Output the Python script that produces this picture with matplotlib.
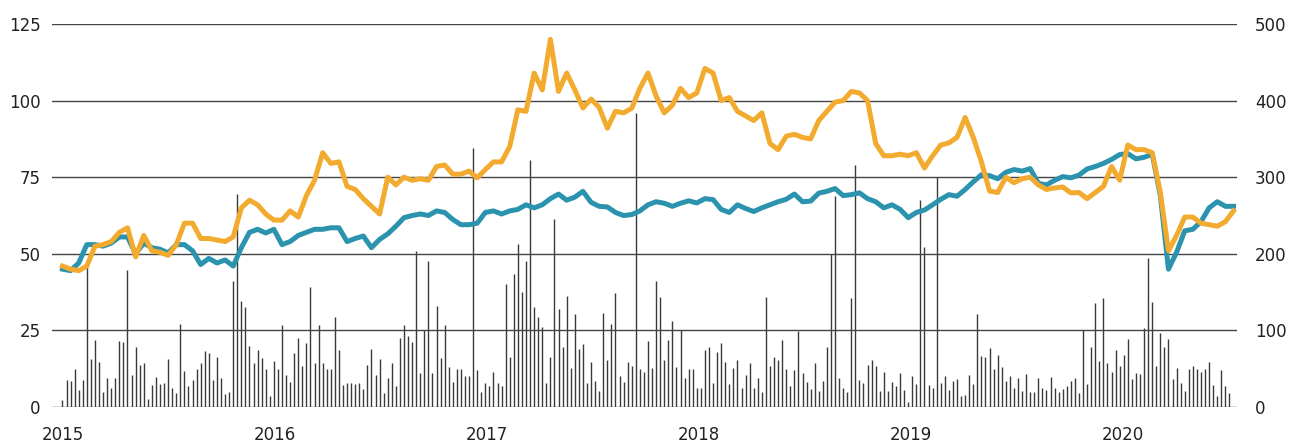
import matplotlib
matplotlib.use('Agg')

import numpy as np
import pandas as pd
import matplotlib.pyplot as plt
import matplotlib.dates as mdates

# weekly volume (right axis), first week starting 2015-01-01
volume = [
    9, 35, 34, 49, 22, 35, 185, 63, 88, 59, 20, 38, 25, 38, 86, 85, 179, 42, 78, 55,
    57, 10, 29, 39, 30, 31, 63, 25, 18, 108, 47, 28, 35, 49,
    57, 73, 71, 35, 65, 38, 17, 20, 164, 278, 138, 130, 80, 57, 74, 64, 50, 14, 60, 50,
    107, 42, 33, 70, 90, 53, 84, 157, 57, 107, 57, 50, 49, 117, 75, 29, 31,
    31, 30, 31, 23, 55, 76, 42, 63, 18, 38, 57, 28, 90, 107, 93, 85, 204, 45, 100, 191,
    44, 132, 64, 107, 52, 33, 49, 50, 40, 40, 338, 48, 20, 31, 28, 46, 31,
    28, 161, 65, 174, 213, 150, 190, 323, 130, 117, 104, 31, 65, 246, 128, 79, 145, 51, 121, 76,
    82, 31, 59, 34, 21, 123, 62, 109, 149, 41, 33, 59, 53, 384, 49, 46, 86,
    51, 165, 143, 62, 87, 112, 52, 100, 38, 50, 49, 25, 25, 75, 79, 32, 72, 84, 59, 30,
    51, 62, 25, 42, 57, 25, 38, 20, 143, 53, 65, 61, 87, 50, 28, 48, 99,
    44, 33, 23, 57, 21, 34, 79, 200, 275, 38, 25, 19, 142, 316, 35, 32, 55, 62, 54, 21,
    46, 21, 33, 27, 44, 22, 7, 41, 30, 270, 209, 29, 25, 300, 32, 41,
    22, 34, 37, 14, 16, 42, 30, 121, 66, 65, 77, 49, 68, 52, 34, 40, 25, 38, 21, 43,
    19, 20, 38, 25, 22, 39, 25, 19, 24, 28, 34, 38, 18, 100, 30, 79, 136,
    60, 142, 57, 46, 75, 53, 68, 89, 36, 44, 43, 103, 195, 137, 53, 96, 78, 89, 37, 51,
    31, 21, 49, 53, 50, 46, 50, 59, 29, 14, 48, 27, 18,
]

# price lines (left axis), sampled every two weeks from 2015-01-01
orange = [
    46, 45, 44.5, 46, 52.5, 53, 54, 57, 58.5, 49,
    56, 51, 50.5, 49.5, 53, 60, 60, 55, 55, 54.5,
    54, 55.5, 65, 67.5, 66, 63, 61, 61, 64, 62,
    69, 74, 83, 79.5, 80, 72, 71, 68, 65.5, 63,
    75, 72.5, 75, 74, 74.5, 74, 78.5, 79, 76, 76,
    77, 74.8, 77.5, 80, 80, 85, 97, 96.5, 109, 103.5,
    120, 103, 109, 103.5, 97.6, 100.5, 97.8, 91, 96.5, 96,
    97.5, 104, 109, 101.5, 96, 98.5, 104, 101, 102.5, 110.5,
    109, 100, 101, 96.5, 95, 93.5, 96, 86, 84, 88.4,
    89, 88, 87.5, 93.5, 96.5, 99.5, 100, 103, 102.5, 100,
    86, 82, 82, 82.5, 82, 83, 78, 82, 85.5, 86.2,
    88, 94.5, 88, 80, 70.5, 70, 75, 73.2, 74.5, 75,
    72.5, 71, 71.5, 71.8, 69.9, 70, 68, 70, 72, 78.5,
    74, 85.5, 84, 84, 83, 70, 51, 56, 62, 62,
    60, 59.5, 59, 60.5, 64,
]
teal = [
    45, 44.5, 47, 53, 53, 52.5, 53.5, 55.5, 55.5, 50,
    53.5, 52, 51.5, 50.3, 53, 53, 51, 46.5, 48.5, 47,
    48, 46, 52, 57, 58, 56.8, 58, 53, 54, 56,
    57, 58, 58, 58.5, 58.5, 54, 55, 55.8, 52, 54.7,
    56.5, 59, 61.8, 62.5, 63, 62.5, 64, 63.5, 61.2, 59.5,
    59.5, 60, 63.5, 64, 63, 64, 64.5, 66, 65, 66,
    68, 69.5, 67.5, 68.5, 70.4, 66.8, 65.5, 65.3, 63.5, 62.5,
    62.8, 64, 66, 67, 66.5, 65.5, 66.5, 67.3, 66.6, 68,
    67.7, 64.5, 63.5, 66, 64.8, 63.8, 65, 66, 67, 67.8,
    69.5, 67, 67.2, 69.8, 70.4, 71.3, 69, 69.3, 69.9, 68,
    67, 65, 66, 64.5, 61.8, 63.5, 64.3, 66, 67.8, 69.3,
    68.8, 71, 73.5, 75.8, 75.5, 74.5, 76.6, 77.5, 77, 77.8,
    73, 72.5, 74, 75.2, 74.8, 75.7, 77.7, 78.5, 79.5, 80.8,
    82.4, 82.7, 81, 81.5, 82.5, 69, 45, 50.5, 57.5, 58,
    60.5, 65, 67, 65.5, 65.5,
]

years = [2015, 2016, 2017, 2018, 2019, 2020]
left_ticks = [0, 25, 50, 75, 100, 125]
right_ticks = [0, 100, 200, 300, 400, 500]

vol_dates = pd.date_range('2015-01-01', periods=len(volume), freq='7D')
line_dates = pd.date_range('2015-01-01', periods=len(orange), freq='14D')

fig = plt.figure(figsize=(12.93, 4.44), dpi=100)
ax = fig.add_axes([0.0402, 0.0833, 0.9165, 0.8626])
ax2 = ax.twinx()

# volume bars on the right axis
ax2.vlines(vol_dates, 0, volume, color='#3a3a3a', linewidth=1.0)
ax2.set_ylim(0, 500)
ax2.set_yticks(right_ticks)

# grid + price lines on the left axis, drawn above the bars
ax.set_zorder(ax2.get_zorder() + 1)
ax.patch.set_visible(False)
ax.set_ylim(0, 125)
ax.set_yticks(left_ticks)
ax.grid(axis='y', color='#444444', linewidth=1.0)
ax.plot(line_dates, teal, color='#2b93ae', linewidth=3.6, solid_joinstyle='round', zorder=3)
ax.plot(line_dates, orange, color='#f2ab2e', linewidth=3.6, solid_joinstyle='round', zorder=4)

ax.set_xlim(pd.Timestamp('2014-12-14'), pd.Timestamp('2020-07-15'))
ax.set_xticks([pd.Timestamp(f'{y}-01-01') for y in years])
ax.set_xticklabels([str(y) for y in years])

for a in (ax, ax2):
    for s in a.spines.values():
        s.set_visible(False)
    a.tick_params(length=0, labelsize=12, labelcolor='#222222')
ax.tick_params(axis='y', pad=8)
ax2.tick_params(axis='y', pad=13)
ax.tick_params(axis='x', pad=14)

fig.savefig('out.png', dpi=100)
